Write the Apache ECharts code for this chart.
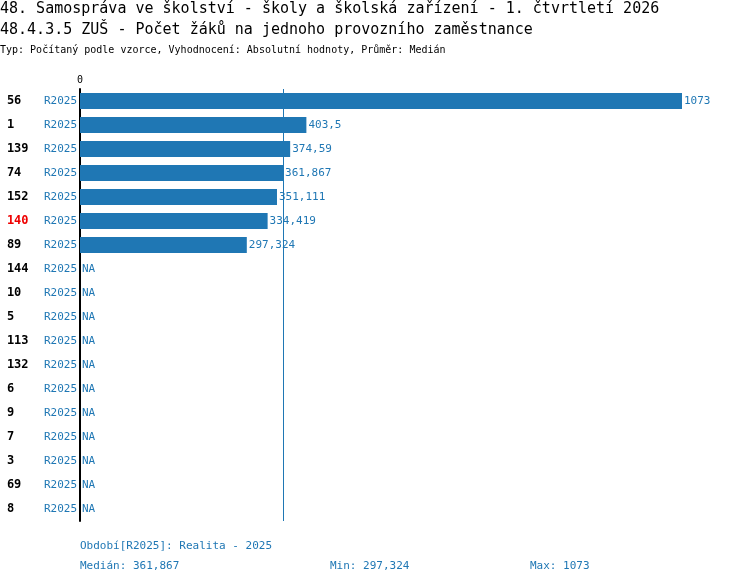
<!DOCTYPE html>
<html><head><meta charset="utf-8">
<script src="https://cdn.jsdelivr.net/npm/echarts@6/dist/echarts.min.js"></script>
<style>html,body{margin:0;padding:0;background:#fff}#c{width:750px;height:584px}</style>
</head><body><div id="c"></div>
<script>
const categories = ['56','1','139','74','152','140','89','144','10','5','113','132','6','9','7','3','69','8'];
const periods = ['R2025','R2025','R2025','R2025','R2025','R2025','R2025','R2025','R2025','R2025','R2025','R2025','R2025','R2025','R2025','R2025','R2025','R2025'];
const values = [1073,403.5,374.59,361.867,351.111,334.419,297.324,null,null,null,null,null,null,null,null,null,null,null];
const highlight = '140';
const median = 361.867, minV = 297.324, maxV = 1073;
const fmt = v => String(v).replace('.', ',');
const mono = 'DejaVu Sans Mono';
const blue = '#1f77b4';
const chart = echarts.init(document.getElementById('c'));
chart.setOption({
  animation:false,
  textStyle:{fontFamily:mono},
  grid:{left:80,right:68,top:89,bottom:63},
  xAxis:{type:'value',position:'top',min:0,max:1073,interval:1073,
    axisLine:{show:false},axisTick:{show:false},splitLine:{show:false},
    axisLabel:{formatter:v=>v===0?'0':'',color:'#000',fontSize:10,fontFamily:mono,margin:4}},
  yAxis:{type:'category',inverse:true,data:categories,
    axisLine:{lineStyle:{color:'#000',width:2}},axisTick:{show:false},
    axisLabel:{margin:3,fontFamily:mono,
      formatter:(v,i)=>'{'+(v===highlight?'h':'a')+'|'+v+'}{b|'+periods[i]+'}',
      rich:{a:{width:37,align:'left',fontWeight:'bold',fontSize:12,color:'#000',fontFamily:mono},
            h:{width:37,align:'left',fontWeight:'bold',fontSize:12,color:'#e00',fontFamily:mono},
            b:{fontSize:11,color:blue,fontFamily:mono}}}},
  series:[{type:'bar',barWidth:16,itemStyle:{color:blue},
    data:values.map(v=>v===null?{value:0,label:{formatter:'NA'}}:v),
    label:{show:true,position:'right',distance:2,color:blue,fontSize:11,fontFamily:mono,
      formatter:p=>fmt(p.value)},
    markLine:{symbol:'none',silent:true,label:{show:false},
      lineStyle:{color:blue,width:1,type:'solid'},data:[{xAxis:median}]}}],
  graphic:[
    {type:'text',left:0,top:2,style:{text:'48. Samospráva ve školství - školy a školská zařízení - 1. čtvrtletí 2026',font:'15px '+mono,fill:'#000'}},
    {type:'text',left:0,top:23,style:{text:'48.4.3.5 ZUŠ - Počet žáků na jednoho provozního zaměstnance',font:'15px '+mono,fill:'#000'}},
    {type:'text',left:0,top:45,style:{text:'Typ: Počítaný podle vzorce, Vyhodnocení: Absolutní hodnoty, Průměr: Medián',font:'10px '+mono,fill:'#000'}},
    {type:'text',left:80,top:541,style:{text:'Období[R2025]: Realita - 2025',font:'11px '+mono,fill:blue}},
    {type:'text',left:80,top:561,style:{text:'Medián: '+fmt(median),font:'11px '+mono,fill:blue}},
    {type:'text',left:330,top:561,style:{text:'Min: '+fmt(minV),font:'11px '+mono,fill:blue}},
    {type:'text',left:530,top:561,style:{text:'Max: '+fmt(maxV),font:'11px '+mono,fill:blue}}
  ]
});
</script></body></html>
